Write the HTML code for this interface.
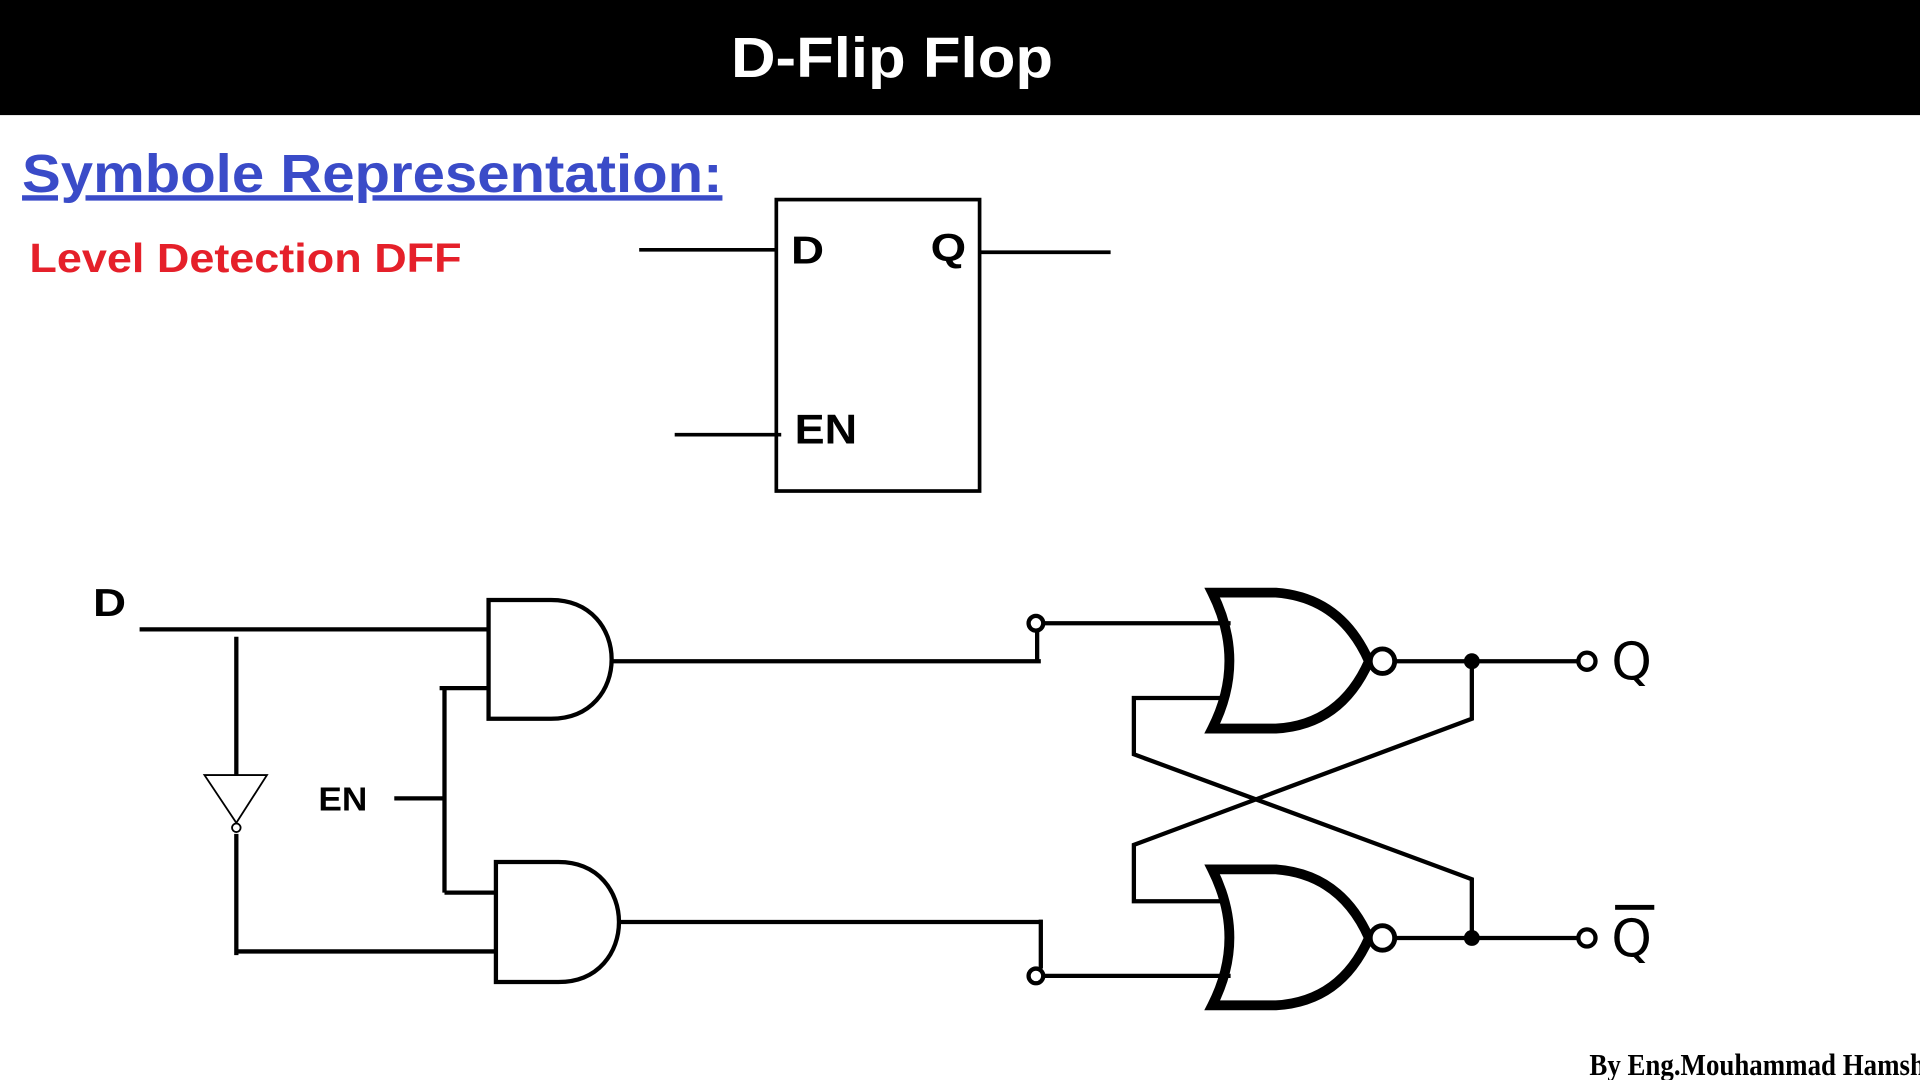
<!DOCTYPE html>
<html><head><meta charset="utf-8"><style>html,body{margin:0;padding:0;background:#fff;overflow:hidden}svg{display:block}</style></head>
<body>
<svg width="1920" height="1080" viewBox="0 0 1568 882" xmlns="http://www.w3.org/2000/svg">
<rect x="0" y="0" width="1568" height="94" fill="#000"/>
<text x="597" y="63" textLength="263" lengthAdjust="spacingAndGlyphs" fill="#fff" font-family="Liberation Sans, sans-serif" font-weight="bold" font-size="46">D-Flip Flop</text>
<text x="18" y="157" textLength="572" lengthAdjust="spacingAndGlyphs" fill="#3a4bc8" font-family="Liberation Sans, sans-serif" font-weight="bold" font-size="44" text-decoration="underline">Symbole Representation:</text>
<text x="24" y="222" textLength="353" lengthAdjust="spacingAndGlyphs" fill="#e5202a" font-family="Liberation Sans, sans-serif" font-weight="bold" font-size="33">Level Detection DFF</text>
<g stroke="#000" stroke-width="3" fill="none">
<rect x="634" y="163" width="166" height="238"/>
<line x1="522" y1="204" x2="634" y2="204"/>
<line x1="801" y1="206" x2="907" y2="206"/>
<line x1="551" y1="355" x2="638" y2="355"/>
</g>
<g font-family="Liberation Sans, sans-serif" font-weight="bold" fill="#000">
<text x="646" y="215" textLength="27" lengthAdjust="spacingAndGlyphs" font-size="32">D</text>
<text x="760" y="213" textLength="29" lengthAdjust="spacingAndGlyphs" font-size="32">Q</text>
<text x="649" y="362" textLength="51" lengthAdjust="spacingAndGlyphs" font-size="34">EN</text>
<text x="76" y="503" textLength="27" lengthAdjust="spacingAndGlyphs" font-size="32">D</text>
<text x="260" y="662" textLength="40" lengthAdjust="spacingAndGlyphs" font-size="27">EN</text>
</g>
<g stroke="#000" stroke-width="3.5" fill="none">
<line x1="114" y1="514" x2="399" y2="514"/>
<line x1="193" y1="520" x2="193" y2="633"/>
<line x1="193" y1="681" x2="193" y2="780"/>
<line x1="193" y1="777" x2="405" y2="777"/>
<path d="M399 490 L450 490 C516 490 516 587 450 587 L399 587 Z"/>
<path d="M405 704 L456 704 C522 704 522 802 456 802 L405 802 Z"/>
<line x1="322" y1="652" x2="363" y2="652"/>
<line x1="363" y1="562" x2="363" y2="729"/>
<line x1="359" y1="562" x2="399" y2="562"/>
<line x1="363" y1="729" x2="405" y2="729"/>
<line x1="501" y1="540" x2="850" y2="540"/>
<line x1="847" y1="540" x2="847" y2="515"/>
<line x1="852" y1="509" x2="1005" y2="509"/>
<line x1="507" y1="753" x2="851" y2="753"/>
<line x1="850" y1="751" x2="850" y2="791"/>
<line x1="852" y1="797" x2="1005" y2="797"/>
<polyline points="1003,570 926,570 926,616 1202,718 1202,766"/>
<polyline points="1003,736 926,736 926,690 1202,587 1202,540"/>
<line x1="1139" y1="540" x2="1289" y2="540"/>
<line x1="1139" y1="766" x2="1289" y2="766"/>
</g>
<path d="M167 633 L218 633 L193 672 Z" fill="none" stroke="#000" stroke-width="1.5"/>
<circle cx="193" cy="676" r="3.5" fill="#fff" stroke="#000" stroke-width="1.5"/>
<g stroke="#000" stroke-width="3.5" fill="#fff">
<circle cx="846" cy="509" r="6"/>
<circle cx="846" cy="797" r="6"/>
<circle cx="1296" cy="540" r="7"/>
<circle cx="1296" cy="766" r="7"/>
</g>
<g stroke="#000" stroke-width="8" fill="none" stroke-linejoin="miter">
<path d="M990 484 L1042 484 Q1095 488 1118 540 Q1095 592 1042 595 L990 595 Q1018 540 990 484 Z"/>
<path d="M990 710 L1042 710 Q1095 714 1118 766 Q1095 818 1042 821 L990 821 Q1018 766 990 710 Z"/>
</g>
<g stroke="#000" stroke-width="4" fill="#fff">
<circle cx="1129" cy="540" r="10"/>
<circle cx="1129" cy="766" r="10"/>
</g>
<circle cx="1202" cy="540" r="6.5" fill="#000"/>
<circle cx="1202" cy="766" r="6.5" fill="#000"/>
<g font-family="DejaVu Sans, Liberation Sans, sans-serif" fill="#000" font-size="42">
<text x="1316" y="555">Q</text>
<text x="1316" y="781">Q</text>
</g>
<rect x="1319" y="739" width="32" height="4" fill="#000"/>
<text x="1298" y="878" textLength="285" lengthAdjust="spacingAndGlyphs" font-family="Liberation Serif, serif" font-weight="bold" font-size="25" fill="#000">By Eng.Mouhammad Hamsho</text>
</svg>
</body></html>
